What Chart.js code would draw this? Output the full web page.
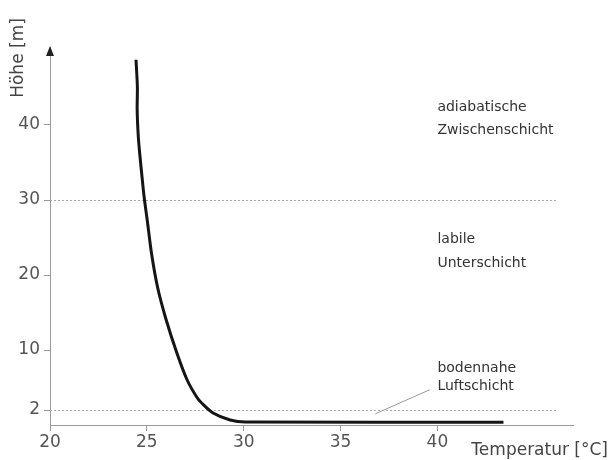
<!DOCTYPE html>
<html>
<head>
<meta charset="utf-8">
<script src="https://cdn.jsdelivr.net/npm/chart.js@4/dist/chart.umd.min.js"></script>
<style>
  html, body { margin: 0; padding: 0; background: #fff; }
  #wrap { width: 610px; height: 460px; position: relative; }
</style>
</head>
<body>
<div id="wrap"><canvas id="profil"></canvas></div>
<script>
// Temperaturprofil über Grund
const temperatures = [24.44, 24.51, 24.50, 24.56, 24.65, 24.75, 24.86, 25.03, 25.24, 25.55, 26.00, 26.55, 27.08, 27.58, 27.84, 28.42, 29.30, 30.08, 43.41];
const heights      = [48.7, 45.1, 42.0, 38.4, 35.7, 33.1, 30.4, 27.1, 22.9, 18.4, 14.0, 9.6, 6.0, 3.7, 2.9, 1.6, 0.67, 0.4, 0.36];
const xTicks = [20, 25, 30, 35, 40];
const yTicks = [2, 10, 20, 30, 40];
const layerBounds = [30, 2];
const layerNames = [
  ["adiabatische", "Zwischenschicht"],
  ["labile", "Unterschicht"],
  ["bodennahe", "Luftschicht"],
];

const FONT = "'DejaVu Sans', sans-serif";
const AXIS = "#9a9a9a";

// Schichtgrenzen, Pfeil, Achsentitel und Beschriftungen
const decor = {
  id: "decor",
  beforeDatasetsDraw(chart) {
    const { ctx, scales: { x, y } } = chart;
    ctx.save();
    ctx.strokeStyle = "#aaa";
    ctx.lineWidth = 1;
    ctx.setLineDash([2, 2]);
    layerBounds.forEach((h) => {
      const py = Math.round(y.getPixelForValue(h)) + 0.5;
      ctx.beginPath();
      ctx.moveTo(x.getPixelForValue(20), py);
      ctx.lineTo(x.getPixelForValue(46.2), py);
      ctx.stroke();
    });
    ctx.setLineDash([]);
    // Hinweislinie zur bodennahen Schicht
    ctx.strokeStyle = "#999";
    ctx.beginPath();
    ctx.moveTo(x.getPixelForValue(36.8), y.getPixelForValue(1.5));
    ctx.lineTo(x.getPixelForValue(39.6), y.getPixelForValue(4.7));
    ctx.stroke();
    ctx.restore();
  },
  afterDraw(chart) {
    const { ctx, chartArea, scales: { x, y } } = chart;
    ctx.save();
    // Pfeilspitze der Höhenachse
    const ax = chartArea.left;
    ctx.fillStyle = "#222";
    ctx.beginPath();
    ctx.moveTo(ax, chartArea.top - 1);
    ctx.lineTo(ax - 4, chartArea.top + 9);
    ctx.lineTo(ax + 4, chartArea.top + 9);
    ctx.closePath();
    ctx.fill();

    ctx.fillStyle = "#444";
    ctx.font = "17px " + FONT;
    ctx.textBaseline = "middle";
    ctx.textAlign = "right";
    ctx.fillText("Temperatur [°C]", 608, 451);

    ctx.save();
    ctx.translate(19, 58);
    ctx.rotate(-Math.PI / 2);
    ctx.textAlign = "center";
    ctx.fillText("Höhe [m]", 0, 0);
    ctx.restore();

    ctx.fillStyle = "#333";
    ctx.font = "14px " + FONT;
    ctx.textAlign = "left";
    const tx = x.getPixelForValue(40);
    const rows = [[42.3, 39.3], [24.8, 21.6], [7.6, 5.1]];
    layerNames.forEach((lines, i) => {
      lines.forEach((t, j) => ctx.fillText(t, tx, y.getPixelForValue(rows[i][j])));
    });
    ctx.restore();
  },
};

new Chart(document.getElementById("profil"), {
  type: "scatter",
  data: {
    datasets: [
      {
        data: temperatures.map((t, i) => ({ x: t, y: heights[i] })),
        showLine: true,
        borderColor: "#151515",
        borderWidth: 3,
        pointRadius: 0,
        tension: 0.3,
      },
    ],
  },
  options: {
    responsive: true,
    maintainAspectRatio: false,
    animation: false,
    layout: { padding: { left: 0, right: 37, top: 47, bottom: 0 } },
    plugins: { legend: { display: false }, tooltip: { enabled: false } },
    scales: {
      x: {
        type: "linear",
        min: 20,
        max: 47,
        afterBuildTicks: (s) => { s.ticks = xTicks.map((v) => ({ value: v })); },
        afterFit: (s) => { s.height = 35; },
        border: { color: AXIS, width: 1 },
        grid: { drawOnChartArea: false, color: AXIS, tickLength: 6 },
        ticks: { color: "#555", font: { family: FONT, size: 17 }, padding: 1 },
      },
      y: {
        type: "linear",
        min: 0,
        max: 50.4,
        afterBuildTicks: (s) => { s.ticks = yTicks.map((v) => ({ value: v })); },
        afterFit: (s) => { s.width = 50; },
        border: { color: AXIS, width: 1 },
        grid: { drawOnChartArea: false, color: AXIS, tickLength: 6 },
        ticks: { color: "#555", font: { family: FONT, size: 17 }, padding: 4 },
      },
    },
  },
  plugins: [decor],
});
</script>
</body>
</html>
